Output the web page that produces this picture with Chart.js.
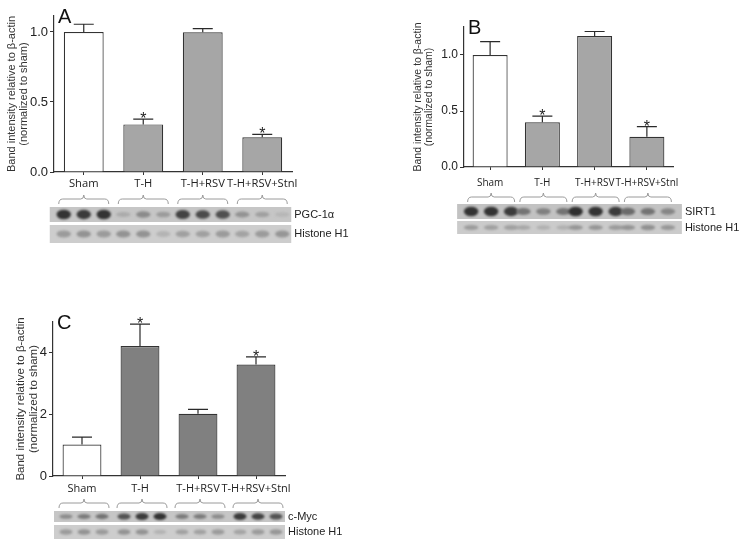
<!DOCTYPE html>
<html>
<head>
<meta charset="utf-8">
<script src="https://cdn.jsdelivr.net/npm/chart.js@4.4.1/dist/chart.umd.min.js"></script>
<style>
  body { margin: 0; background: #fff; width: 741px; height: 546px; position: relative; overflow: hidden; }
  canvas { position: absolute; }
</style>
</head>
<body>
<canvas id="chartA" width="370" height="250" style="left:0;top:0"></canvas>
<canvas id="chartB" width="341" height="245" style="left:400px;top:0"></canvas>
<canvas id="chartC" width="370" height="256" style="left:0;top:290px"></canvas>
<script>
const groups = ['Sham', 'T-H', 'T-H+RSV', 'T-H+RSV+Stnl'];
const starred = [false, true, false, true];

// A: PGC-1a
const pgcMean = [1.0, 0.34, 0.998, 0.248];
const pgcSem = [0.055, 0.038, 0.026, 0.02];
const pgcTicks = [0, 0.5, 1.0];
// B: SIRT1
const sirtMean = [1.0, 0.40, 1.17, 0.27];
const sirtSem = [0.12, 0.055, 0.04, 0.09];
const sirtTicks = [0, 0.5, 1.0];
// C: c-Myc
const mycMean = [1.02, 4.22, 2.02, 3.62];
const mycSem = [0.24, 0.71, 0.14, 0.25];
const mycTicks = [0, 2, 4];

// blot band darkness, 3 lanes per group
const pgcBands = [0.9, 0.85, 0.9, 0.15, 0.35, 0.25, 0.8, 0.75, 0.72, 0.3, 0.22, 0.08];
const pgcHistone = [0.25, 0.3, 0.25, 0.3, 0.3, 0.1, 0.22, 0.22, 0.25, 0.2, 0.25, 0.28];
const sirtBands = [0.9, 0.9, 0.85, 0.5, 0.42, 0.5, 0.92, 0.9, 0.85, 0.55, 0.5, 0.38];
const sirtHistone = [0.25, 0.22, 0.22, 0.18, 0.12, 0.12, 0.28, 0.28, 0.25, 0.3, 0.32, 0.28];
const mycBands = [0.35, 0.45, 0.5, 0.7, 0.85, 0.9, 0.45, 0.45, 0.35, 0.85, 0.8, 0.7];
const mycHistone = [0.25, 0.3, 0.25, 0.3, 0.3, 0.1, 0.22, 0.22, 0.25, 0.2, 0.25, 0.28];

const panels = [
  {
    id: 'chartA', letter: 'A', mean: pgcMean, sem: pgcSem, ticks: pgcTicks, max: 1.114,
    fill: ['#ffffff', '#a6a6a6', '#a6a6a6', '#a6a6a6'],
    area: { left: 54, right: 292, top: 16, bottom: 172 },
    tickSize: 13, catSize: 11.2, catPad: 2, titleSize: 11, titlePad: 6, barPct: 0.67,
    blot: { shift: 0, laneGap: 20, half: 25, padL: 34, padR: 29, bracketY: 195 },
    rows: [
      { name: 'PGC-1α', bands: pgcBands, y: 207, h: 15, bg: '#c6c6c6' },
      { name: 'Histone H1', bands: pgcHistone, y: 225, h: 18, bg: '#cdcdcd' }
    ]
  },
  {
    id: 'chartB', letter: 'B', mean: sirtMean, sem: sirtSem, ticks: sirtTicks, max: 1.25,
    fill: ['#ffffff', '#a6a6a6', '#a6a6a6', '#a6a6a6'],
    area: { left: 64, right: 273, top: 27, bottom: 167 },
    tickSize: 12, catSize: 10, catPad: 7, titleSize: 10.5, titlePad: 12, barPct: 0.67,
    blot: { shift: 1, laneGap: 20, half: 23.5, padL: 34, padR: 34, bracketY: 193 },
    rows: [
      { name: 'SIRT1', bands: sirtBands, y: 204, h: 15, bg: '#c2c2c2' },
      { name: 'Histone H1', bands: sirtHistone, y: 221, h: 13, bg: '#cbcbcb' }
    ]
  },
  {
    id: 'chartC', letter: 'C', mean: mycMean, sem: mycSem, ticks: mycTicks, max: 5.0,
    fill: ['#ffffff', '#808080', '#808080', '#808080'],
    area: { left: 53, right: 285, top: 32, bottom: 186 },
    tickSize: 13, catSize: 11, catPad: 3, titleSize: 11.5, titlePad: 15, barPct: 0.67,
    blot: { shift: 2, laneGap: 18, half: 25, padL: 30, padR: 27, bracketY: 209 },
    rows: [
      { name: 'c-Myc', bands: mycBands, y: 221, h: 11, bg: '#c6c6c6' },
      { name: 'Histone H1', bands: mycHistone, y: 235, h: 14, bg: '#cdcdcd' }
    ]
  }
];

function drawBlot(chart, p) {
  const ctx = chart.ctx, xs = chart.scales.x, b = p.blot;
  const cx = g => xs.getPixelForValue(g) + b.shift;
  const left = cx(0) - b.padL, right = cx(3) + b.padR;
  ctx.save();
  ctx.strokeStyle = '#9a9a9a';
  ctx.lineWidth = 1;
  for (let g = 0; g < 4; g++) {
    const c = cx(g), y = b.bracketY, h = b.half;
    ctx.beginPath();
    ctx.moveTo(c - h, y + 9);
    ctx.quadraticCurveTo(c - h, y + 4, c - h + 4, y + 4);
    ctx.lineTo(c - 3, y + 4);
    ctx.quadraticCurveTo(c, y + 4, c, y);
    ctx.quadraticCurveTo(c, y + 4, c + 3, y + 4);
    ctx.lineTo(c + h - 4, y + 4);
    ctx.quadraticCurveTo(c + h, y + 4, c + h, y + 9);
    ctx.stroke();
  }
  p.rows.forEach(row => {
    ctx.fillStyle = row.bg;
    ctx.fillRect(left, row.y, right - left, row.h);
    ctx.save();
    ctx.beginPath();
    ctx.rect(left, row.y, right - left, row.h);
    ctx.clip();
    ctx.filter = 'blur(1.2px)';
    row.bands.forEach((v, i) => {
      const g = Math.floor(i / 3), k = i % 3;
      const x = cx(g) + (k - 1) * b.laneGap;
      const shade = Math.round(195 - v * 160);
      ctx.fillStyle = 'rgb(' + shade + ',' + shade + ',' + shade + ')';
      ctx.beginPath();
      ctx.ellipse(x, row.y + row.h / 2, b.laneGap * 0.36, row.h * (0.14 + v * 0.2), 0, 0, Math.PI * 2);
      ctx.fill();
    });
    ctx.restore();
    ctx.fillStyle = '#222';
    ctx.font = '11px Arial';
    ctx.textBaseline = 'middle';
    ctx.textAlign = 'left';
    ctx.fillText(row.name, right + 3, row.y + row.h / 2);
  });
  ctx.restore();
}

const extrasPlugin = {
  id: 'extras',
  afterDatasetsDraw(chart) {
    const p = chart.config.options.plugins.extras.panel;
    const ctx = chart.ctx, ys = chart.scales.y;
    const bars = chart.getDatasetMeta(0).data;
    ctx.save();
    ctx.strokeStyle = '#2a2a2a';
    ctx.lineWidth = 1.2;
    bars.forEach((bar, i) => {
      const top = ys.getPixelForValue(p.mean[i]);
      const err = ys.getPixelForValue(p.mean[i] + p.sem[i]);
      ctx.beginPath();
      ctx.moveTo(bar.x, top);
      ctx.lineTo(bar.x, err);
      ctx.moveTo(bar.x - 10, err);
      ctx.lineTo(bar.x + 10, err);
      ctx.stroke();
      if (starred[i]) {
        ctx.fillStyle = '#222';
        ctx.font = '16px Arial';
        ctx.textAlign = 'center';
        ctx.textBaseline = 'alphabetic';
        ctx.fillText('*', bar.x, err + 5);
      }
    });
    ctx.fillStyle = '#111';
    ctx.font = '20px Arial';
    ctx.textAlign = 'left';
    ctx.textBaseline = 'alphabetic';
    ctx.fillText(p.letter, chart.chartArea.left + 4, chart.chartArea.top + 7);
    ctx.restore();
  },
  afterDraw(chart) {
    drawBlot(chart, chart.config.options.plugins.extras.panel);
  }
};

panels.forEach(p => {
  const canvas = document.getElementById(p.id);
  const W = canvas.width, H = canvas.height;
  new Chart(canvas, {
    type: 'bar',
    data: {
      labels: groups,
      datasets: [{
        data: p.mean,
        backgroundColor: p.fill,
        borderColor: '#333',
        borderWidth: 1.2,
        borderSkipped: 'bottom',
        barPercentage: p.barPct,
        categoryPercentage: 1
      }]
    },
    options: {
      responsive: false,
      animation: false,
      layout: { padding: { left: 0, top: p.area.top, right: W - p.area.right, bottom: 0 } },
      plugins: { legend: { display: false }, tooltip: { enabled: false }, extras: { panel: p } },
      scales: {
        x: {
          grid: { display: true, drawOnChartArea: false, offset: false, tickLength: 3, color: '#333' },
          border: { display: true, color: '#333', width: 1.2 },
          ticks: {
            color: '#222', padding: p.catPad, maxRotation: 0, minRotation: 0, autoSkip: false,
            font: { family: 'Open Sans', size: p.catSize }
          },
          afterFit(scale) { scale.height = H - p.area.bottom; }
        },
        y: {
          min: 0,
          max: p.max,
          afterBuildTicks(scale) { scale.ticks = p.ticks.map(v => ({ value: v })); },
          grid: { display: true, drawOnChartArea: false, tickLength: 4, color: '#333' },
          border: { display: true, color: '#333', width: 1.2 },
          ticks: {
            color: '#222', padding: 2,
            font: { family: 'Arial', size: p.tickSize },
            callback: v => (p.max > 2 ? String(v) : v.toFixed(1))
          },
          title: {
            display: true,
            text: ['Band intensity relative to β-actin', '(normalized to sham)'],
            color: '#333',
            font: { family: 'Arial', size: p.titleSize, lineHeight: 1.1 },
            padding: { top: p.titlePad, bottom: 0 }
          },
          afterFit(scale) { scale.width = p.area.left; }
        }
      }
    },
    plugins: [extrasPlugin]
  });
});
</script>
</body>
</html>
